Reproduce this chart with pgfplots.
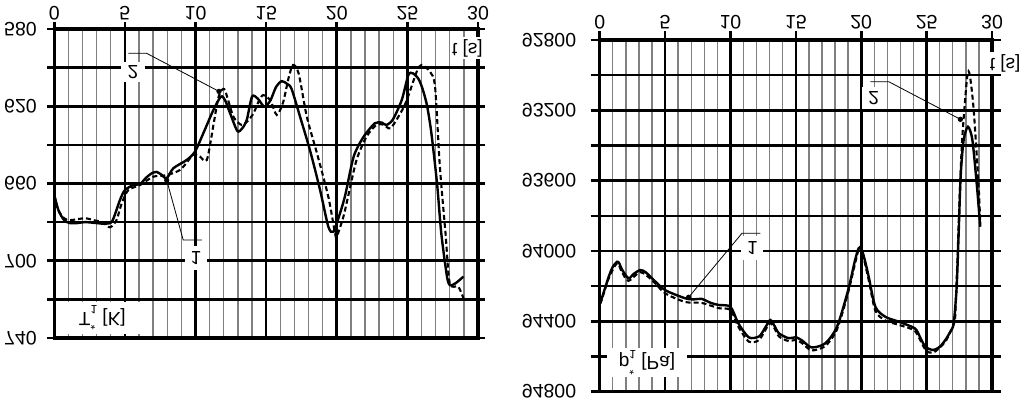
\documentclass[border=0pt]{standalone}
\usepackage{pgfplots}
\pgfplotsset{compat=1.18}
\usepackage{fontspec}
\setmainfont{Liberation Sans}
\tikzset{lab/.style={fill=white, inner sep=2pt, yscale=-1}}
\begin{document}
\fontsize{19}{22}\selectfont
\begin{tikzpicture}
\useasboundingbox (0pt,0pt) rectangle (1024pt,402pt);
\pgfplotsset{
 base/.style={
  scale only axis, y dir=reverse, xmin=0, xmax=30,
  xtick={0,5,...,30}, xticklabels={0,5,10,15,20,25,30},
  minor x tick num=4,
  scaled y ticks=false, scaled x ticks=false,
  grid=both,
  major grid style={black,line width=2.6pt},
  minor grid style={black!50,line width=1.4pt},
  axis line style={line width=3.2pt},
  every tick/.style={black,line width=2.6pt},
  major tick length=7pt,
  minor tick length=0pt,
  tick align=outside,
  xtick pos=top, xticklabel pos=top,
  ytick pos=both, yticklabel pos=left,
  every tick label/.append style={yscale=-1, font=\fontsize{19.5}{22}\selectfont},
  xticklabel style={anchor=north, inner ysep=1.5pt},
  clip=false,
 },
 solidc/.style={black, line width=2.4pt, smooth, tension=0.45},
 dashc/.style={black, line width=2.1pt, dash pattern=on 5pt off 3pt, smooth, tension=0.45},
 lead/.style={black, line width=0.8pt, mark=*, mark size=2.2pt, mark indices={1}},
}
% ---------------- left: T ----------------
\begin{axis}[base, at={(266.15pt,218.5pt)}, anchor=center,
  width=423.7pt, height=309pt,
  ymin=580, ymax=740,
  ytick={580,600,...,740}, yticklabels={580,,620,,660,,700,,740},
  yticklabel style={anchor=east, xshift=-4pt}]
\addplot[solidc] coordinates {
(0,666) (0.3,674) (0.7,679) (1.1,680.5) (1.6,680.5) (2.2,680) (3.0,680.5) (3.6,680.8)
(4.1,679.5) (4.65,668.5) (5.0,663.4) (5.6,660.8) (6.07,660.3) (6.5,657) (6.9,654.7)
(7.25,654) (7.6,655.5) (7.96,657.3) (8.43,652.1) (9.38,647.8) (9.96,643.5) (10.55,634)
(11.26,622) (11.8,615) (12.1,617) (12.45,623.7) (12.96,632.8) (13.3,631.5) (13.63,627)
(14.0,615) (14.4,616) (14.87,620.2) (15.3,617) (15.7,610) (16.1,607) (16.5,608.5)
(16.8,611) (17.4,625.4) (18.1,642.7) (18.82,663.4) (19.4,682.3) (19.76,685) (20.23,675.4)
(20.6,666) (21.2,646) (21.9,635.8) (22.7,628.8) (23.2,628.5) (23.5,629.7) (23.96,627)
(24.6,616.8) (25.07,603.8) (25.4,603) (25.8,606) (26.1,611.6) (26.4,620) (26.7,634)
(27.1,660) (27.4,685.8) (27.8,708) (28.0,712.6) (28.4,711.7) (28.97,708.2)};
\addplot[dashc] coordinates {
(0,666) (0.28,673.7) (0.7,678) (1.1,679) (1.6,678.5) (2.2,678) (2.8,679) (3.4,680)
(3.94,682.7) (4.4,679) (4.77,670.3) (5.24,663.4) (6.07,660.8) (7.0,656.5) (7.96,655.7)
(8.9,653) (9.5,648) (9.85,645) (10.3,646) (10.8,647.8) (11.26,630) (11.6,616) (11.86,611.6)
(12.1,612) (12.68,625.4) (13.27,629.7) (13.7,627.5) (14.1,623.7) (14.5,617) (14.8,614.2)
(15.3,617) (15.75,624.5) (16.2,618) (16.6,605) (16.9,598.6) (17.3,603) (17.88,625.4)
(18.6,644.4) (19.4,666.8) (19.88,685.8) (20.0,687.5) (20.47,677.2) (20.8,666.8)
(21.4,647.8) (22.1,635.8) (22.8,629.7) (23.3,629.5) (23.8,631.4) (24.5,623.7)
(24.96,616.8) (25.66,602.1) (26.0,598.6) (26.6,602.1) (26.96,610) (27.3,651.3)
(27.7,685.8) (28.0,711.7) (28.6,713.4) (28.97,719.4)};
\addplot[lead] coordinates {(7.96,658.3) (9.13,689.3) (10.44,689.3)};
\addplot[lead] coordinates {(11.66,612.3) (6.54,592.6) (5.24,592.6)};
\node[lab, minimum width=22pt, minimum height=24pt] at (axis cs:10.03,698.6) {1};
\node[lab, minimum width=24pt, minimum height=20pt] at (axis cs:5.57,602.3) {2};
\node[lab, minimum width=81pt, minimum height=32pt] at (axis cs:3.4,729.5)
  {T\rlap{\raisebox{0.5em}{\fontsize{12}{12}\selectfont *}}\raisebox{-0.35em}{\fontsize{12}{12}\selectfont 1}\ [K]};
\node[lab] at (axis cs:29.25,589.8) {t [s]};
\end{axis}
% ---------------- right: p ----------------
\begin{axis}[base, at={(795.85pt,186.15pt)}, anchor=center,
  width=392.3pt, height=351.7pt,
  ymin=92800, ymax=94800,
  ytick={92800,93000,93200,93400,93600,93800,94000,94200,94400,94600,94800},
  yticklabels={92800,,93200,,93600,,94000,,94400,,94800},
  yticklabel style={anchor=east, xshift=-8pt},
  major tick length=9pt]
\addplot[solidc] coordinates {
(0,94300) (0.12,94278) (0.69,94146) (1.0,94090) (1.32,94061) (1.5,94070) (1.7,94105)
(2.2,94155) (2.6,94130) (3.1,94108) (3.5,94120) (4.0,94155) (5.0,94222) (6.55,94269)
(7.2,94275) (7.8,94272) (8.5,94295) (9.1,94307) (10.0,94317) (10.6,94411) (11.4,94491)
(12.2,94485) (12.7,94430) (13.05,94392) (13.4,94430) (13.7,94468) (14.45,94496)
(15.0,94490) (15.5,94510) (16.2,94548) (17.25,94525) (18.15,94430) (19.0,94222)
(19.5,94060) (19.8,93985) (20.05,93995) (20.3,94060) (20.57,94146) (21.08,94317)
(21.84,94374) (22.87,94402) (24.1,94440) (24.5,94490) (24.9,94544) (25.5,94563)
(26.0,94545) (26.43,94506) (26.8,94460) (27.07,94411) (27.3,94200) (27.45,93899)
(27.6,93577) (27.83,93369) (28.16,93293) (28.5,93369) (28.85,93634) (29.1,93862)};
\addplot[dashc] coordinates {
(0,94300) (0.12,94285) (0.69,94155) (1.32,94070) (1.7,94120) (2.2,94170) (3.1,94120)
(4.0,94165) (5.0,94240) (6.55,94290) (7.8,94295) (9.1,94325) (10.0,94335) (10.6,94430)
(11.4,94515) (12.2,94505) (13.05,94410) (13.7,94485) (14.45,94512) (15.0,94505)
(15.5,94525) (16.2,94565) (17.25,94540) (18.15,94445) (19.0,94235) (19.8,93990)
(20.05,94000) (20.57,94165) (21.08,94340) (21.84,94395) (22.87,94420) (24.1,94455)
(24.9,94560) (25.5,94578) (26.43,94515) (27.07,94415) (27.2,94350) (27.45,93850)
(27.7,93388) (28.1,93009) (28.3,93000) (28.6,93198) (28.98,93634) (29.1,93845)};
\addplot[lead] coordinates {(6.8,94263) (10.88,93899) (12.28,93899)};
\addplot[lead] coordinates {(27.58,93251) (22.1,93037) (20.69,93037)};
\node[lab, minimum width=22pt, minimum height=24pt] at (axis cs:11.67,93985) {1};
\node[lab, minimum width=24pt, minimum height=22pt] at (axis cs:20.95,93132) {2};
\node[lab, minimum width=80pt, minimum height=29pt] at (axis cs:3.62,94634)
  {p\rlap{\raisebox{0.5em}{\fontsize{12}{12}\selectfont *}}\raisebox{-0.35em}{\fontsize{12}{12}\selectfont 1}\ [Pa]};
\node[lab] at (axis cs:31.0,92931) {t [s]};
\end{axis}
\end{tikzpicture}
\end{document}
